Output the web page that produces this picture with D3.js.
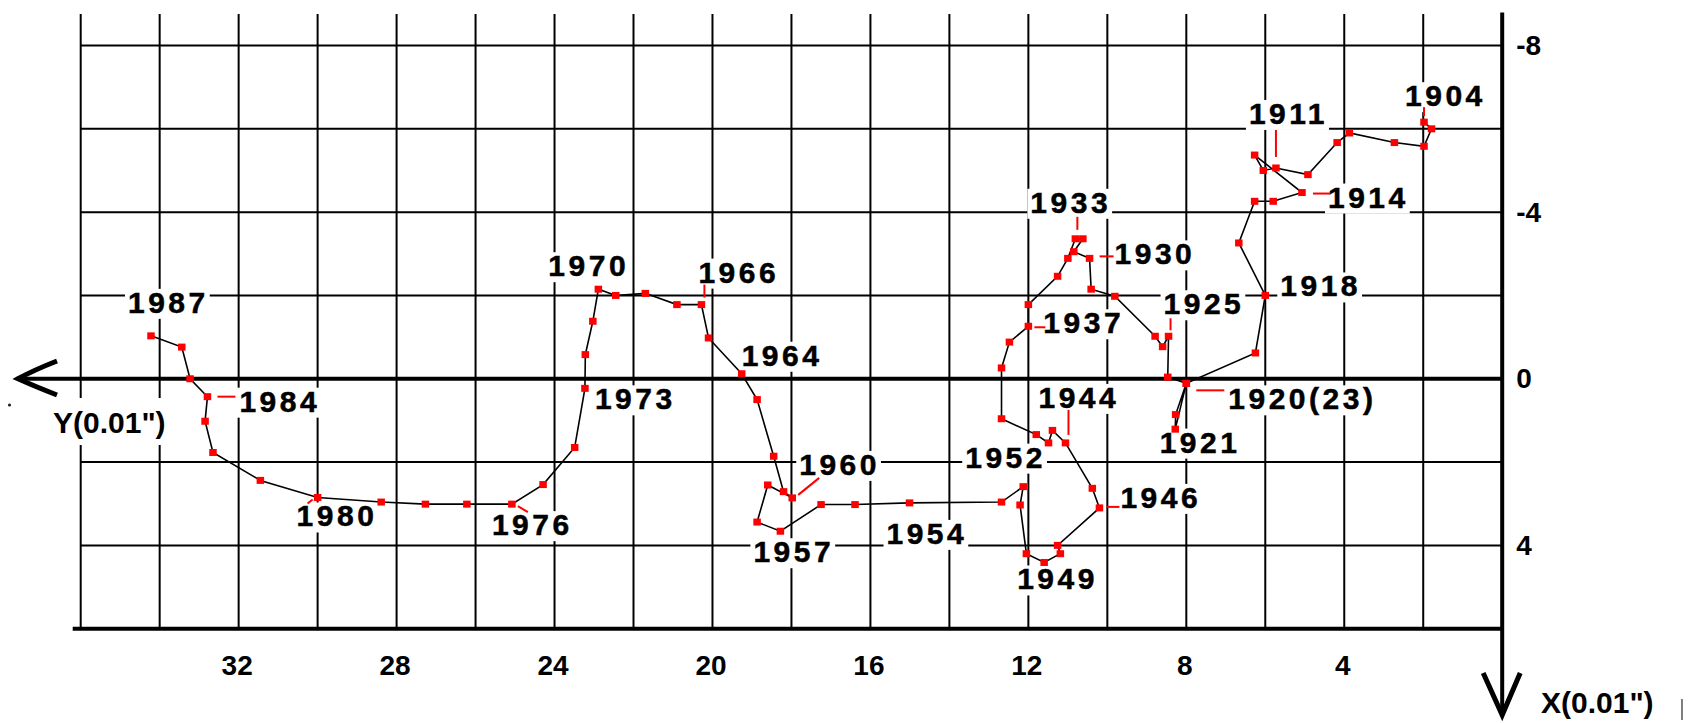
<!DOCTYPE html>
<html>
<head>
<meta charset="utf-8">
<script src="https://cdn.jsdelivr.net/npm/d3@7"></script>
<style>
  html, body { margin: 0; padding: 0; background: #fff; }
  svg { display: block; }
  text { font-family: "Liberation Sans", Arial, sans-serif; font-weight: bold; }
</style>
</head>
<body>
<svg id="chart" width="1691" height="723"></svg>
<script>
// Yearly mean pole positions, units of 0.01"
const years = [
  1904, 1905, 1906, 1907, 1908, 1909, 1910, 1911, 1912, 1913,
  1914, 1915, 1916, 1917, 1918, 1919, 1920, 1921, 1922, 1923,
  1924, 1925, 1926, 1927, 1928, 1929, 1930, 1931, 1932, 1933,
  1934, 1935, 1936, 1937, 1938, 1939, 1940, 1941, 1942, 1943,
  1944, 1945, 1946, 1947, 1948, 1949, 1950, 1951, 1952, 1953,
  1954, 1955, 1956, 1957, 1958, 1959, 1960, 1961, 1962, 1963,
  1964, 1965, 1966, 1967, 1968, 1969, 1970, 1971, 1972, 1973,
  1974, 1975, 1976, 1977, 1978, 1979, 1980, 1981, 1982, 1983,
  1984, 1985, 1986, 1987
];
const xValues = [
  1.98, 1.79, 1.98, 2.73, 3.87, 4.18, 4.92, 5.73, 6.05, 6.27,
  5.07, 5.80, 6.27, 6.67, 6.00, 6.25, 8.00, 8.27, 8.28, 8.00,
  8.47, 8.45, 8.60, 8.79, 9.81, 10.41, 10.45, 10.85, 10.62, 10.81,
  11.00, 11.26, 12.00, 12.00, 12.48, 12.68, 12.68, 11.80, 11.49, 11.39,
  11.06, 10.38, 10.20, 11.26, 11.19, 11.60, 12.05, 12.21, 12.13, 12.68,
  15.01, 16.39, 17.25, 18.28, 18.87, 18.60, 17.98, 18.20, 18.45, 18.87,
  19.26, 20.10, 20.28, 20.90, 21.70, 22.45, 22.89, 23.03, 23.22, 23.23,
  23.49, 24.29, 25.08, 26.22, 27.27, 28.39, 30.00, 31.45, 32.65, 32.85,
  32.79, 33.23, 33.44, 34.22
];
const yValues = [
  -6.16, -6.00, -5.58, -5.67, -5.90, -5.67, -4.90, -5.06, -5.00, -5.37,
  -4.47, -4.26, -4.26, -3.26, -2.00, -0.62, 0.11, 0.86, 1.21, 0.11,
  -0.04, -1.02, -0.77, -1.02, -1.98, -2.15, -2.89, -3.05, -3.36, -3.36,
  -2.89, -2.46, -1.78, -1.26, -0.88, -0.26, 0.96, 1.34, 1.54, 1.24,
  1.54, 2.63, 3.10, 4.00, 4.20, 4.41, 4.20, 3.03, 2.59, 2.96,
  2.98, 3.02, 3.02, 3.66, 3.44, 2.55, 2.86, 2.71, 1.86, 0.50,
  -0.12, -0.98, -1.78, -1.78, -2.05, -2.00, -2.15, -1.38, -0.58, 0.23,
  1.65, 2.54, 3.01, 3.01, 3.01, 2.96, 2.85, 2.44, 1.77, 1.02,
  0.43, 0.00, -0.76, -1.03
];

// Years that carry a text label, and the text shown for each
const labelYears = [1904, 1911, 1914, 1918, 1920, 1921, 1925, 1930, 1933, 1937,
  1944, 1946, 1949, 1952, 1954, 1957, 1960, 1964, 1966, 1970, 1973, 1976, 1980, 1984, 1987];
const labelTexts = ["1904", "1911", "1914", "1918", "1920(23)", "1921", "1925", "1930", "1933", "1937",
  "1944", "1946", "1949", "1952", "1954", "1957", "1960", "1964", "1966", "1970", "1973", "1976", "1980", "1984", "1987"];

// Axis ticks and grid
const xTickValues = [32, 28, 24, 20, 16, 12, 8, 4];
const yTickValues = [-8, -4, 0, 4];
const xGridValues = [36, 34, 32, 30, 28, 26, 24, 22, 20, 18, 16, 14, 12, 10, 8, 6, 4, 2];
const yGridValues = [-8, -6, -4, -2, 2, 4];

// Label placement: text offset from its point, optional leader offsets
const labelLayout = {
  1904: { dx: -19, dy: -16, leader: [0, -6, 0, -15] },
  1911: { dx: -27, dy: -44, leader: [0, -11, 0, -38] },
  1914: { dx: 26, dy: 15, leader: [11, 1, 28, 1] },
  1918: { dx: 15, dy: 1 },
  1920: { dx: 42, dy: 26, leader: [10, 7, 38, 7] },
  1921: { dx: -16, dy: 38 },
  1925: { dx: -5, dy: -22, leader: [2, -6, 2, -18] },
  1930: { dx: 25, dy: 6, leader: [10, -2, 24, -2] },
  1933: { dx: -45, dy: -26, leader: [2, -9, 2, -22] },
  1937: { dx: 15, dy: 7, leader: [6, 1, 17, 1] },
  1944: { dx: -27, dy: -35, leader: [3, -8, 3, -33] },
  1946: { dx: 21, dy: 0, leader: [7, -1, 20, -1] },
  1949: { dx: -27, dy: 27 },
  1952: { dx: -58, dy: -19 },
  1954: { dx: -23, dy: 41 },
  1957: { dx: -27, dy: 31 },
  1960: { dx: 7, dy: -23, leader: [6, -3, 27, -20] },
  1964: { dx: 0, dy: -8 },
  1966: { dx: -3, dy: -22, leader: [3, -7, 3, -20] },
  1970: { dx: -50, dy: -13 },
  1973: { dx: 10, dy: 21 },
  1976: { dx: -20, dy: 31, leader: [6, 2, 16, 8] },
  1980: { dx: -21, dy: 29, leader: [-5, 2, -10, 6] },
  1984: { dx: 32, dy: 15, leader: [10, 0, 28, 0] },
  1987: { dx: -23, dy: -23 }
};

const svg = d3.select("#chart");

// X grows to the left, Y grows downward
const x = d3.scaleLinear().domain([36, 0]).range([80.7, 1502.2]);
const y = d3.scaleLinear().domain([-8, 6]).range([45.5, 628.7]);

const gridTop = 14;
const ink = "#000";
const red = "#ff0000";

// Grid
const grid = svg.append("g").attr("class", "grid");
grid.selectAll("line.v").data(xGridValues).join("line").attr("class", "v")
  .attr("x1", d => x(d)).attr("x2", d => x(d))
  .attr("y1", gridTop).attr("y2", y(6))
  .attr("stroke", ink).attr("stroke-width", 2);
grid.selectAll("line.h").data(yGridValues).join("line").attr("class", "h")
  .attr("x1", x(36)).attr("x2", x(0))
  .attr("y1", d => y(d)).attr("y2", d => y(d))
  .attr("stroke", ink).attr("stroke-width", 2);

// Axes lines
const axes = svg.append("g").attr("class", "axes");
axes.append("line").attr("x1", 17).attr("x2", x(0)).attr("y1", y(0)).attr("y2", y(0))
  .attr("stroke", ink).attr("stroke-width", 4);
axes.append("line").attr("x1", x(36) - 8).attr("x2", x(0)).attr("y1", y(6)).attr("y2", y(6))
  .attr("stroke", ink).attr("stroke-width", 4);
axes.append("line").attr("x1", x(0)).attr("x2", x(0)).attr("y1", 12.5).attr("y2", 714)
  .attr("stroke", ink).attr("stroke-width", 4);

// Arrow heads
axes.append("path")
  .attr("d", `M57,361 Q34,370 18,${y(0)} Q34,386 57,395`)
  .attr("fill", "none").attr("stroke", ink).attr("stroke-width", 5);
axes.append("path")
  .attr("d", `M${x(0) - 19},673 L${x(0)},715 L${x(0) + 18},673`)
  .attr("fill", "none").attr("stroke", ink).attr("stroke-width", 5);

// Tick labels
const xAxis = svg.append("g")
  .attr("transform", "translate(-2,655)")
  .call(d3.axisBottom(x).tickValues(xTickValues).tickSize(0).tickPadding(0).tickFormat(d => String(d)));
xAxis.select(".domain").remove();
xAxis.attr("font-family", null).attr("font-size", null);
xAxis.selectAll("text").attr("font-size", 28).attr("fill", ink);

const yAxis = svg.append("g")
  .attr("transform", `translate(${x(0) + 14},0)`)
  .call(d3.axisRight(y).tickValues(yTickValues).tickSize(0).tickPadding(0).tickFormat(d => String(d)));
yAxis.select(".domain").remove();
yAxis.attr("font-family", null).attr("font-size", null);
yAxis.selectAll("text").attr("font-size", 28).attr("fill", ink);

// Axis titles
const yTitle = svg.append("g");
yTitle.append("rect").attr("x", 45).attr("y", 398).attr("width", 126).attr("height", 47).attr("fill", "#fff");
yTitle.append("text").attr("x", 53).attr("y", 433).attr("font-size", 30).attr("fill", ink).text('Y(0.01")');
svg.append("text").attr("x", 1541).attr("y", 713).attr("font-size", 30).attr("fill", ink).text('X(0.01")');

// Stray marks
svg.append("circle").attr("cx", 9.5).attr("cy", 405).attr("r", 1.6).attr("fill", "#222");
svg.append("line").attr("x1", 1682).attr("x2", 1682).attr("y1", 699).attr("y2", 720)
  .attr("stroke", "#555").attr("stroke-width", 1.5);

// Points
const points = years.map((yr, i) => ({ year: yr, x: xValues[i], y: yValues[i] }));
const byYear = new Map(points.map(p => [p.year, p]));

// Year labels with white backing
const labelsG = svg.append("g").attr("class", "labels");
labelYears.forEach((yr, i) => {
  const p = byYear.get(yr);
  const lay = labelLayout[yr];
  const g = labelsG.append("g");
  const bg = g.append("rect").attr("fill", "#fff");
  const t = g.append("text")
    .attr("x", x(p.x) + lay.dx).attr("y", y(p.y) + lay.dy)
    .attr("font-size", 30).attr("letter-spacing", "3.5px")
    .attr("fill", ink).attr("stroke", ink).attr("stroke-width", 0.5)
    .text(labelTexts[i]);
  const b = t.node().getBBox();
  bg.attr("x", b.x - 3).attr("y", b.y + 3).attr("width", b.width + 4).attr("height", b.height - 3);
});

// Path of the pole
const line = d3.line().x(d => x(d.x)).y(d => y(d.y));
svg.append("path").datum(points)
  .attr("d", line).attr("fill", "none")
  .attr("stroke", ink).attr("stroke-width", 1.6);

// Leaders
labelYears.forEach(yr => {
  const lay = labelLayout[yr];
  if (!lay.leader) return;
  const p = byYear.get(yr);
  const [a, b, c, d] = lay.leader;
  svg.append("line")
    .attr("x1", x(p.x) + a).attr("y1", y(p.y) + b)
    .attr("x2", x(p.x) + c).attr("y2", y(p.y) + d)
    .attr("stroke", red).attr("stroke-width", 2);
});

// Yearly markers
svg.append("g").selectAll("rect").data(points).join("rect")
  .attr("x", d => x(d.x) - 3.75).attr("y", d => y(d.y) - 3.5)
  .attr("width", 7.5).attr("height", 7)
  .attr("fill", red);
</script>
</body>
</html>
